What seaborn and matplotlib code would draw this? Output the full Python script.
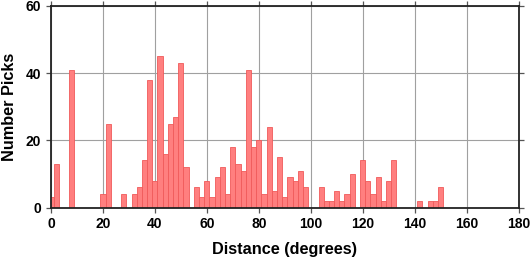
import numpy as np
import pandas as pd
import matplotlib
matplotlib.use("Agg")
import matplotlib.pyplot as plt
import seaborn as sns

# Bin centres (degrees, 2-degree bins) and pick counts
distance = [0, 2, 8, 20, 22, 28, 32, 34, 36, 38, 40, 42, 44, 46, 48, 50, 52,
            56, 58, 60, 62, 64, 66, 68, 70, 72, 74, 76, 78, 80, 82, 84, 86, 88,
            90, 92, 94, 96, 98, 104, 106, 108, 110, 112, 114, 116, 120, 122,
            124, 126, 128, 130, 132, 142, 146, 148, 150]
picks = [3, 13, 41, 4, 25, 4, 4, 6, 14, 38, 8, 45, 16, 25, 27, 43, 12,
         6, 3, 8, 3, 9, 12, 4, 18, 13, 11, 41, 18, 20, 4, 24, 5, 15,
         3, 9, 8, 11, 6, 6, 2, 2, 5, 2, 4, 10, 14, 8,
         4, 9, 2, 8, 14, 2, 2, 2, 6]
x_ticks = [0, 20, 40, 60, 80, 100, 120, 140, 160, 180]
y_ticks = [0, 20, 40, 60]

df = pd.DataFrame({"distance": distance, "picks": picks})

sns.set_style("white")
plt.rcParams["font.family"] = ["Liberation Sans", "DejaVu Sans"]
plt.rcParams["font.weight"] = "bold"
plt.rcParams["text.color"] = "black"
plt.rcParams["axes.labelcolor"] = "black"
plt.rcParams["xtick.labelcolor"] = "black"
plt.rcParams["ytick.labelcolor"] = "black"

fig = plt.figure(figsize=(5.30, 2.58), dpi=100)
ax = fig.add_axes([51 / 530, 1 - 207.5 / 258, 467.5 / 530, 201.5 / 258])

sns.histplot(data=df, x="distance", weights="picks", binwidth=2, binrange=(-1, 151),
             color="#ff7f7f", edgecolor="#f05a5a", linewidth=0.6, alpha=1,
             ax=ax, zorder=2)

ax.set_xlim(0, 180)
ax.set_ylim(0, 60)
ax.set_xticks(x_ticks)
ax.set_yticks(y_ticks)
ax.grid(True, color="#a0a0a0", linewidth=0.8)
ax.set_axisbelow(True)
for s in ax.spines.values():
    s.set_linewidth(1.3)
    s.set_color("#222222")
    s.set_visible(True)
ax.tick_params(axis="both", which="major", direction="out", length=3.6, width=0.9,
               color="#555555", labelsize=10, pad=3.5,
               top=True, right=True, bottom=True, left=True)
for lab in ax.get_xticklabels() + ax.get_yticklabels():
    lab.set_fontweight("bold")
ax.set_xlabel("Distance (degrees)", fontsize=11.7, fontweight="bold")
ax.set_ylabel("Number Picks", fontsize=11.7, fontweight="bold")
ax.xaxis.set_label_coords(0.5, (207.5 - 242.0) / 201.5)
ax.yaxis.set_label_coords((16.7 - 51) / 467.5, 0.5)

fig.savefig("out.png", dpi=100)
